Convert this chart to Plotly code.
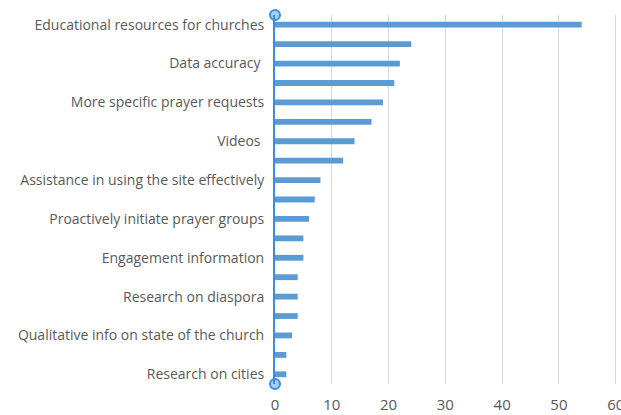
import plotly.graph_objects as go

# Responses per requested feature, top to bottom
values = [54, 24, 22, 21, 19, 17, 14, 12, 8, 7, 6, 5, 5, 4, 4, 4, 3, 2, 2]
# Labels shown on the axis (every other row)
label_rows = [0, 2, 4, 6, 8, 10, 12, 14, 16, 18]
labels = [
    "Educational resources for churches",
    "Data accuracy ",
    "More specific prayer requests",
    "Videos ",
    "Assistance in using the site effectively",
    "Proactively initiate prayer groups",
    "Engagement information",
    "Research on diaspora",
    "Qualitative info on state of the church",
    "Research on cities",
]
x_ticks = [0, 10, 20, 30, 40, 50, 60]

rows = list(range(len(values)))

fig = go.Figure()
fig.add_trace(go.Bar(
    x=values,
    y=rows,
    orientation="h",
    marker=dict(color="#5b9bd5", line=dict(width=0)),
    width=0.3,
))

# Selection handles at both ends of the category axis
fig.add_trace(go.Scatter(
    x=[0, 0],
    y=[-0.5, len(values) - 0.5],
    mode="markers",
    marker=dict(size=10, color="#a9cdf0", line=dict(color="#3b8edb", width=2)),
    cliponaxis=False,
    hoverinfo="skip",
))

fig.update_layout(
    width=621,
    height=415,
    margin=dict(l=275, r=3, t=15, b=31),
    paper_bgcolor="white",
    plot_bgcolor="white",
    showlegend=False,
    font=dict(family="Open Sans", size=12, color="#595959"),
)
fig.update_xaxes(
    range=[0, 60.4],
    tickvals=x_ticks,
    showgrid=True,
    gridcolor="#d9d9d9",
    gridwidth=1,
    zeroline=False,
    showline=False,
    ticks="",
    tickfont=dict(size=15, color="#595959"),
    ticklabelstandoff=10,
    ticklabeloverflow="allow",
    automargin=False,
)
fig.update_yaxes(
    range=[len(values) - 0.5, -0.5],
    tickvals=label_rows,
    ticktext=labels,
    showgrid=False,
    zeroline=False,
    showline=True,
    linecolor="#3b8edb",
    linewidth=2,
    ticks="",
    ticklabelstandoff=6,
    tickfont=dict(size=14, color="#595959"),
    automargin=False,
)

fig.write_html("out.html")
